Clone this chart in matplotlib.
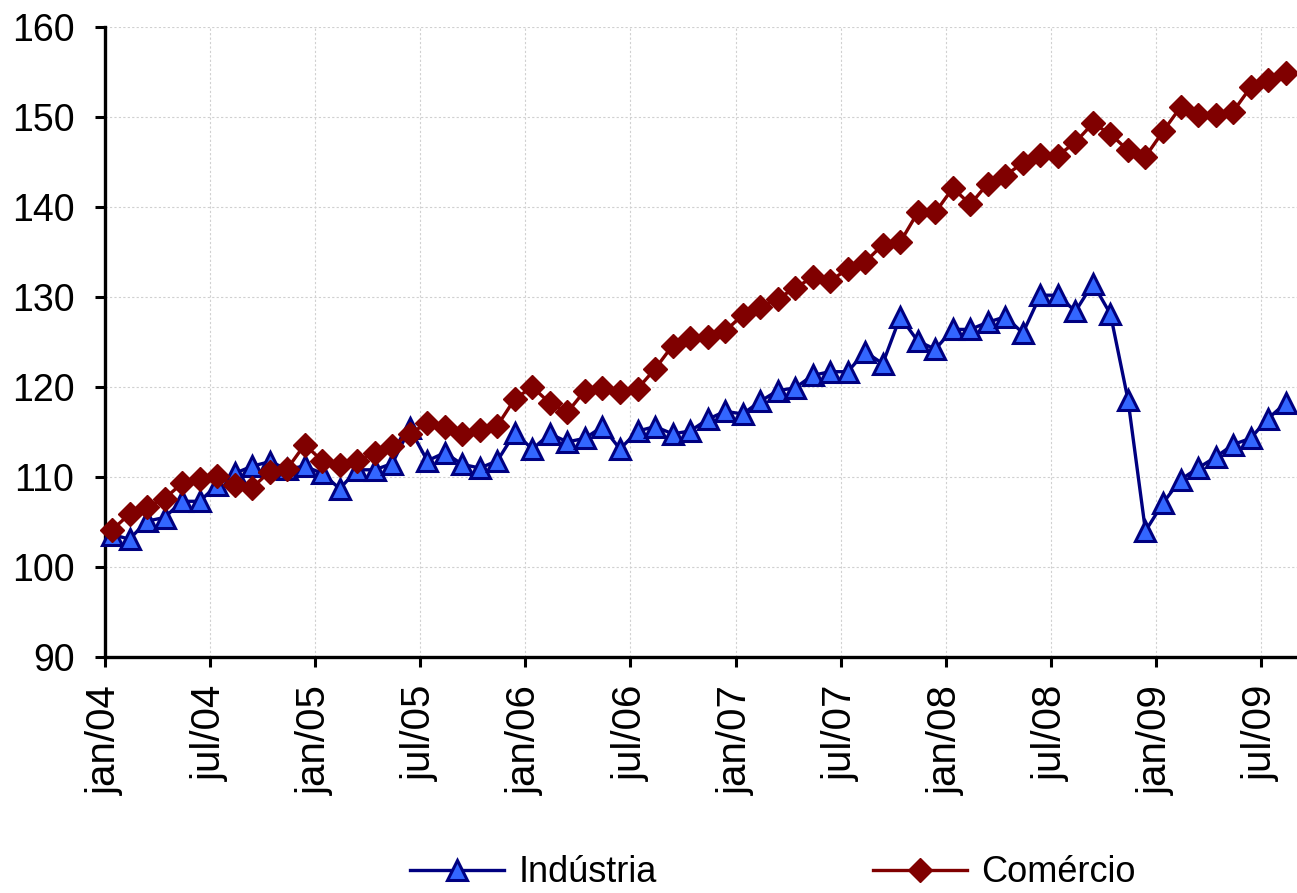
import matplotlib
matplotlib.use("Agg")
import matplotlib.pyplot as plt
import numpy as np

# monthly index values, jan/04 .. aug/09
industria = [103.6, 103.1, 105.1, 105.5, 107.3, 107.3, 109.1, 110.4, 111.2, 111.7, 110.9, 111.2,
             110.4, 108.7, 110.8, 110.8, 111.5, 115.4, 111.8, 112.7, 111.4, 111.0, 111.8, 114.9,
             113.1, 114.8, 113.9, 114.3, 115.6, 113.1, 115.1, 115.6, 114.8, 115.1, 116.4, 117.3,
             117.0, 118.4, 119.6, 119.9, 121.3, 121.7, 121.7, 123.9, 122.6, 127.8, 125.1, 124.2,
             126.4, 126.4, 127.2, 127.8, 126.0, 130.2, 130.2, 128.4, 131.5, 128.1, 118.6, 104.0,
             107.1, 109.7, 111.0, 112.2, 113.6, 114.3, 116.5, 118.2]
comercio = [104.1, 105.9, 106.7, 107.6, 109.3, 109.8, 110.1, 109.1, 108.8, 110.6, 110.9, 113.6,
            111.8, 111.3, 111.8, 112.7, 113.4, 114.8, 116.0, 115.6, 114.8, 115.2, 115.7, 118.7,
            120.0, 118.2, 117.2, 119.6, 119.9, 119.5, 119.8, 122.0, 124.6, 125.4, 125.6, 126.2,
            128.0, 128.9, 129.8, 131.0, 132.2, 131.8, 133.1, 133.9, 135.8, 136.1, 139.4, 139.4,
            142.1, 140.3, 142.6, 143.5, 144.9, 145.8, 145.7, 147.2, 149.3, 148.1, 146.3, 145.6,
            148.4, 151.1, 150.2, 150.2, 150.6, 153.3, 154.1, 154.9]
tick_labels = ["jan/04", "jul/04", "jan/05", "jul/05", "jan/06", "jul/06",
               "jan/07", "jul/07", "jan/08", "jul/08", "jan/09", "jul/09"]

plt.rcParams['font.family'] = ['Liberation Sans', 'DejaVu Sans']

fig = plt.figure(figsize=(12.97, 8.93), dpi=100)
ax = fig.add_axes([105 / 1297, 1 - 657 / 893, 1192 / 1297, 630 / 893])

x = np.arange(len(industria))
ax.plot(x, industria, color='#000080', lw=2.4, marker='^', ms=15, mfc='#3366ff',
        mec='#000080', mew=2.2, label='Indústria', clip_on=False, zorder=3)
ax.plot(x, comercio, color='#800000', lw=2.4, marker='D', ms=12.5, mfc='#800000',
        mec='#800000', mew=1, label='Comércio', clip_on=False, zorder=4)

ax.set_ylim(90, 160)
ax.set_yticks(np.arange(90, 161, 10))
ax.set_xlim(-0.4, 67.65)
ax.set_xticks(np.arange(0, 67, 6) - 0.4)
ax.set_xticklabels(tick_labels, rotation=90)

ax.grid(True, color='#d0d0d0', linestyle=(0, (2, 2)), linewidth=0.8)
ax.set_axisbelow(True)
for s in ['top', 'right']:
    ax.spines[s].set_visible(False)
for s in ['left', 'bottom']:
    ax.spines[s].set_linewidth(2.4)
ax.tick_params(axis='both', direction='out', length=7, width=2.2, pad=13)
ax.tick_params(axis='y', labelsize=27, pad=15)
ax.tick_params(axis='x', labelsize=29, pad=13)

fig.legend(loc='center', bbox_to_anchor=(773 / 1297, 1 - 873 / 893), ncol=2, frameon=False,
           fontsize=26, handlelength=2.6, handletextpad=0.4, columnspacing=6)

plt.savefig("out.png", dpi=100)
